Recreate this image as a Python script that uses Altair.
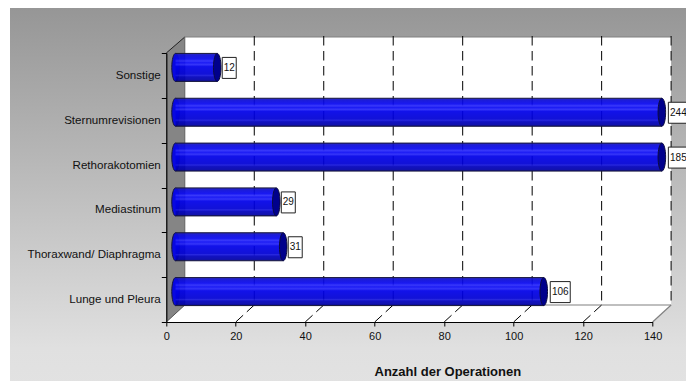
import altair as alt
import pandas as pd

# Operation counts per category, listed top to bottom
categories = ["Sonstige", "Sternumrevisionen", "Rethorakotomien", "Mediastinum",
              "Thoraxwand/ Diaphragma", "Lunge und Pleura"]
counts = [12, 244, 185, 29, 31, 106]
grid_ticks = [20, 40, 60, 80, 100, 120, 140]
x_max = 140
x_title = "Anzahl der Operationen"

# Plot box and the oblique depth of the pseudo-3D frame, in pixels
PLOT_W, PLOT_H = 486.3, 269
LEFT, TOP = 166.3, 53
DX, DY = 18.5, 17
FONT = "Liberation Sans"

bars = pd.DataFrame({"category": categories, "count": counts, "zero": 0})
ticks = pd.DataFrame({"tick": grid_ticks})
one = pd.DataFrame({"k": [0]})

x_scale = alt.Scale(domain=[0, x_max], clamp=True, nice=False)
y_scale = alt.Scale(domain=categories, paddingInner=0, paddingOuter=0)
x_enc = alt.X("count:Q", scale=x_scale, stack=None, title=x_title,
              axis=alt.Axis(values=[0] + grid_ticks, grid=False, zindex=1, tickSize=4,
                            tickColor="#000", domainColor="#000", domainWidth=1.2,
                            labelFlush=False, labelFont=FONT, labelFontSize=11,
                            labelColor="#111", labelPadding=4, titleFont=FONT,
                            titleFontSize=13, titleFontWeight="bold", titleColor="#111",
                            titleX=281, titleY=43))
y_enc = alt.Y("category:N", scale=y_scale, sort=categories, title=None,
              axis=alt.Axis(tickBand="extent", grid=False, zindex=1, tickSize=5,
                            tickColor="#000", domainColor="#000", domainWidth=1.2,
                            labelFont=FONT, labelFontSize=11.6, labelColor="#111",
                            labelPadding=1, labelLimit=200))

backdrop_fill = alt.Gradient(gradient="linear", x1=0, x2=0, y1=0, y2=1,
                             stops=[alt.GradientStop(offset=0, color="#969696"),
                                    alt.GradientStop(offset=0.9, color="#e0e0e0"),
                                    alt.GradientStop(offset=1, color="#e2e2e2")])
backdrop = alt.Chart(one).mark_rect(fill=backdrop_fill).encode(
    x=alt.value(10 - LEFT), x2=alt.value(700 - LEFT),
    y=alt.value(8 - TOP), y2=alt.value(381 - TOP + 5))

back_wall = alt.Chart(one).mark_rect(fill="white").encode(
    x=alt.value(DX), x2=alt.value(PLOT_W + DX),
    y=alt.value(-DY + 1), y2=alt.value(PLOT_H - DY))

# Floor and side wall are parallelograms given in plot pixels
floor = alt.Chart(pd.DataFrame({
    "y": [PLOT_H - DY, PLOT_H], "x1": [DX, 0], "x2": [PLOT_W + DX, PLOT_W]
})).mark_area(orient="horizontal", fill="white").encode(
    y=alt.Y("y:Q", scale=None, axis=None),
    x=alt.X("x1:Q", scale=None, axis=None), x2="x2:Q")

side_wall = alt.Chart(pd.DataFrame({
    "x": [0, DX], "y1": [0, -DY + 1], "y2": [PLOT_H, PLOT_H - DY]
})).mark_area(orient="vertical", fill="#858585").encode(
    x=alt.X("x:Q", scale=None, axis=None),
    y=alt.Y("y1:Q", scale=None, axis=None), y2="y2:Q")


def edge(color, x0, y0, x1, y1, width=1):
    return alt.Chart(one).mark_rule(color=color, strokeWidth=width).encode(
        x=alt.value(x0), y=alt.value(y0), x2=alt.value(x1), y2=alt.value(y1))


edges = [
    edge("#808080", DX, -DY + 1, PLOT_W + DX, -DY + 1, 1.2),
    edge("#808080", DX, PLOT_H - DY, PLOT_W + DX, PLOT_H - DY, 1.2),
    edge("#808080", PLOT_W, PLOT_H, PLOT_W + DX, PLOT_H - DY, 1.2),
    edge("#222222", 0, 0, DX, -DY + 1),
    edge("#555555", 0, PLOT_H, DX, PLOT_H - DY),
    edge("#666666", DX, -DY + 1, DX, PLOT_H - DY),
]

grid_back = alt.Chart(ticks).mark_rule(
    color="#000", strokeWidth=1, strokeDash=[9.5, 5.5], xOffset=DX
).encode(x=alt.X("tick:Q", scale=x_scale, title=x_title),
         y=alt.value(-DY), y2=alt.value(PLOT_H - DY))

grid_floor = alt.Chart(ticks).transform_filter("datum.tick < 140").mark_rule(
    color="#000", strokeWidth=1, strokeDash=[10, 5], x2Offset=DX
).encode(x=alt.X("tick:Q", scale=x_scale, title=x_title), x2="tick:Q",
         y=alt.value(PLOT_H), y2=alt.value(PLOT_H - DY))

# Cylinders sit half-way into the depth of the frame
BAR_DX, BAR_DY = DX / 2, -8
BAR_H = 28
ELLIPSE = ("M0,-1 C0.149,-1 0.27,-0.552 0.27,0 C0.27,0.552 0.149,1 0,1 "
           "C-0.149,1 -0.27,0.552 -0.27,0 C-0.27,-0.552 -0.149,-1 0,-1 Z")
body_fill = alt.Gradient(gradient="linear", x1=0, x2=0, y1=0, y2=1, stops=[
    alt.GradientStop(offset=0.00, color="#1a1ab4"),
    alt.GradientStop(offset=0.08, color="#0a0ad8"),
    alt.GradientStop(offset=0.20, color="#0808f0"),
    alt.GradientStop(offset=0.27, color="#2a2afa"),
    alt.GradientStop(offset=0.33, color="#0c0cf4"),
    alt.GradientStop(offset=0.40, color="#2626f8"),
    alt.GradientStop(offset=0.47, color="#0000e8"),
    alt.GradientStop(offset=0.74, color="#0000d4"),
    alt.GradientStop(offset=0.78, color="#1818dc"),
    alt.GradientStop(offset=0.84, color="#0000bc"),
    alt.GradientStop(offset=0.95, color="#0000a8"),
    alt.GradientStop(offset=1.00, color="#000070"),
])

start_cap = alt.Chart(bars).mark_point(
    shape=ELLIPSE, size=BAR_H ** 2, filled=True, fill="#0808e0", stroke="#16163c",
    strokeWidth=1, opacity=1, xOffset=BAR_DX, yOffset=BAR_DY
).encode(x=alt.X("zero:Q", scale=x_scale, title=x_title), y=y_enc)

body = alt.Chart(bars).mark_bar(
    size=BAR_H, fill=body_fill, opacity=0.93, xOffset=BAR_DX, x2Offset=BAR_DX, yOffset=BAR_DY
).encode(x=x_enc, x2="zero:Q", y=y_enc)

top_edge = alt.Chart(bars).mark_rule(
    color="#16163c", strokeWidth=1, xOffset=BAR_DX, x2Offset=BAR_DX, yOffset=BAR_DY - BAR_H / 2
).encode(x=x_enc, x2="zero:Q", y=y_enc)

bottom_edge = alt.Chart(bars).mark_rule(
    color="#16163c", strokeWidth=1, xOffset=BAR_DX, x2Offset=BAR_DX, yOffset=BAR_DY + BAR_H / 2
).encode(x=x_enc, x2="zero:Q", y=y_enc)

end_cap = alt.Chart(bars).mark_point(
    shape=ELLIPSE, size=BAR_H ** 2, filled=True, fill="#00008c", stroke="#0c0c40",
    strokeWidth=1, opacity=1, xOffset=BAR_DX, yOffset=BAR_DY
).encode(x=x_enc, y=y_enc)


def value_labels(condition, box_w, gap):
    """White boxed value label to the right of each cylinder end."""
    subset = alt.Chart(bars).transform_filter(condition)
    box = subset.mark_bar(
        size=21, fill="white", stroke="#222", strokeWidth=1, opacity=1,
        xOffset=BAR_DX + gap, x2Offset=BAR_DX + gap + box_w, yOffset=BAR_DY + 0.5
    ).encode(x=x_enc, x2="count:Q", y=y_enc)
    text = subset.mark_text(
        font=FONT, fontSize=10, color="#111", align="center", baseline="middle",
        xOffset=BAR_DX + gap + box_w / 2, yOffset=BAR_DY + 0.5
    ).encode(x=x_enc, y=y_enc, text="count:Q")
    return box + text


chart = alt.layer(
    backdrop, back_wall, floor, side_wall, *edges, grid_back, grid_floor,
    start_cap, body, top_edge, bottom_edge, end_cap,
    value_labels("datum.count < 100", 14, 5),
    value_labels("datum.count >= 100", 20, 6.5),
).properties(
    width=PLOT_W, height=PLOT_H,
    padding={"left": LEFT, "top": TOP, "right": 686 - LEFT - PLOT_W, "bottom": 381 - TOP - PLOT_H},
    autosize=alt.AutoSizeParams(type="none"),
    background="white",
).configure_view(stroke=None)

chart.save("out.html", embed_options={"renderer": "svg", "actions": False})
